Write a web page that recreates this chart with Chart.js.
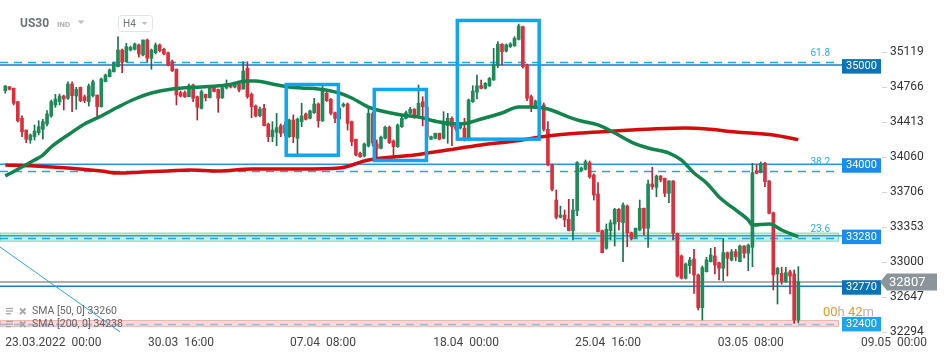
<!DOCTYPE html>
<html><head><meta charset="utf-8">
<script src="https://cdn.jsdelivr.net/npm/chart.js@4.4.1/dist/chart.umd.min.js"></script>
<style>html,body{margin:0;padding:0;background:#fff;overflow:hidden}canvas{display:block}</style>
</head><body>
<canvas id="c" width="949" height="358"></canvas>
<script>
// ---------- DATA ----------
const candleOpen = [34732,34772,34756,34621,34453,34335,34234,34268,34308,34342,
34396,34477,34588,34621,34678,34655,34799,34678,34766,34671,
34621,34681,34688,34570,34823,34873,34923,34974,35142,35024,
35142,35149,35193,35092,35243,35059,35115,35193,35149,35115,
35024,34948,34712,34712,34671,34789,34671,34554,34695,34661,
34759,34744,34661,34759,34794,34769,34799,34749,34958,34695,
34577,34480,34554,34393,34268,34312,34379,34305,34268,34436,
34252,34419,34497,34453,34510,34598,34429,34706,34645,34510,
34446,34577,34598,34419,34242,34100,34073,34174,34497,34194,
34151,34252,34363,34224,34167,34369,34453,34504,34544,34487,
34621,34567,34242,34252,34302,34252,34379,34453,34376,34356,
34353,34252,34621,34716,34782,34756,34782,34840,34984,35200,
35132,35176,35186,35250,35377,34991,34671,34580,34628,34588,
34342,33982,33629,33455,33478,33435,33320,33521,33925,33939,
34006,33881,33690,33320,33142,33320,33387,33536,33400,33569,
33299,33253,33327,33546,33344,33791,33757,33871,33848,33697,
33821,33293,33065,32840,32967,33034,32873,32543,32906,33007,
33065,32997,32941,33098,33024,33108,33007,33165,33092,33152,
33925,33905,33999,33821,33501,32883,32890,32805,32906,32883,
32419];
const candleHigh = [34784,34774,34759,34623,34477,34335,34295,34386,34429,34443,
34530,34638,34695,34698,34688,34822,34822,34766,34769,34688,
34799,34840,34688,34860,34900,34951,35021,35276,35152,35210,
35182,35213,35203,35243,35253,35152,35213,35203,35162,35122,
35041,34951,34729,34729,34799,34799,34678,34739,34698,34769,
34769,34749,34779,34840,34799,34809,34809,35024,35024,34709,
34588,34567,34595,34406,34419,34504,34396,34416,34446,34487,
34456,34605,34507,34537,34655,34608,34789,34746,34653,34517,
34577,34608,34608,34426,34245,34113,34204,34554,34517,34235,
34275,34376,34376,34235,34396,34487,34527,34564,34552,34789,
34671,34588,34275,34305,34305,34520,34504,34467,34396,34413,
34453,34648,34782,34890,34840,34814,34865,35159,35226,35208,
35203,35216,35276,35404,35384,35001,34688,34638,34648,34608,
34419,33992,33730,33568,33528,33636,33636,34016,33962,34033,
34023,33892,33804,33327,33387,33428,33546,33544,33602,33579,
33306,33347,33629,33549,33831,33959,33881,33876,33851,33826,
33826,33296,33075,32994,33051,33132,32883,32964,33051,33142,
33152,33004,33243,33105,33130,33132,33175,33170,33185,33999,
33982,34013,34008,33826,33508,32949,32951,32951,32923,32923,
32957];
const candleLow = [34706,34739,34588,34416,34268,34207,34201,34234,34285,34242,
34376,34463,34564,34588,34537,34645,34520,34544,34621,34611,
34577,34668,34456,34567,34820,34870,34920,34971,34913,35021,
35132,35142,35069,35082,35024,34948,35102,35122,35092,34981,
34925,34588,34668,34663,34668,34621,34436,34547,34628,34658,
34719,34514,34653,34749,34759,34759,34719,34746,34655,34459,
34467,34467,34376,34217,34217,34177,34268,34275,34260,34207,
34083,34369,34436,34446,34502,34363,34421,34623,34487,34409,
34436,34567,34335,34177,34073,34058,34063,34164,34174,34050,
34144,34245,34199,34050,34159,34361,34446,34497,34453,34477,
34376,34235,34240,34245,34235,34245,34201,34177,34325,34345,
34224,34245,34613,34648,34749,34749,34774,34835,34964,34991,
35122,35167,35178,35243,34958,34631,34520,34572,34567,34325,
33972,33720,33438,33448,33360,33317,33226,33471,33922,33932,
33848,33629,33307,33095,33132,33226,33165,33327,33007,33158,
33226,33246,33317,33276,33152,33737,33663,33811,33663,33602,
33226,32853,32832,32832,32890,32688,32520,32419,32903,33004,
32883,32822,32815,32863,33014,33017,33004,33044,32916,32957,
33892,33902,33763,33488,32722,32580,32779,32797,32681,32386,
32390];
const candleClose = [34779,34746,34605,34429,34318,34242,34285,34325,34369,34419,
34497,34621,34648,34678,34648,34799,34681,34746,34631,34631,
34779,34823,34570,34850,34890,34941,35008,35142,35018,35176,
35169,35203,35102,35243,35059,35142,35193,35135,35102,34991,
34933,34688,34678,34671,34782,34655,34564,34722,34661,34759,
34724,34655,34762,34799,34769,34799,34739,34930,34671,34570,
34477,34547,34379,34268,34335,34359,34302,34386,34436,34268,
34446,34477,34443,34527,34598,34429,34739,34631,34504,34453,
34557,34595,34403,34217,34083,34066,34194,34504,34204,34151,
34262,34363,34207,34167,34386,34453,34510,34544,34487,34605,
34570,34265,34268,34302,34242,34396,34453,34369,34345,34379,
34258,34638,34729,34782,34756,34806,34857,34998,35200,35125,
35193,35203,35260,35384,34974,34655,34580,34628,34588,34342,
33982,33737,33455,33478,33428,33320,33528,34006,33952,34016,
33864,33680,33310,33098,33334,33400,33536,33410,33579,33299,
33243,33344,33546,33344,33791,33763,33871,33831,33697,33821,
33293,32863,32840,32984,33024,32873,32543,32947,33024,33075,
32974,32941,33098,33041,33108,33058,33165,33092,33175,33905,
33899,33999,33814,33495,32873,32941,32805,32896,32863,32419,
32807];

const sma50Idx = [0,7,9,11,15,19,23,27,31,35,40,47,53,58,60,64,68,71,75,80,83,87,95,99,104,109,114,119,123,126,130,135,138,142,146,150,154,159,162,165,168,171,174,178,179,183,184,186,190];
const sma50Val = [33871,34032,34083,34164,34285,34396,34477,34567,34648,34708,34749,34769,34789,34830,34830,34799,34769,34759,34749,34708,34658,34567,34487,34466,34416,34396,34446,34507,34567,34567,34547,34466,34426,34386,34305,34214,34154,34103,34032,33902,33801,33660,33559,33428,33377,33387,33377,33327,33260];
const sma200Idx = [0,7,15,23,27,33,39,44,51,59,71,80,87,98,106,114,122,130,138,146,155,163,168,175,184,190];
const sma200Val = [33982,33972,33952,33922,33901,33912,33922,33932,33922,33942,33942,33952,34032,34083,34134,34184,34224,34275,34305,34325,34345,34355,34345,34315,34285,34238];

const yTickValues = [35119,34766,34413,34060,33706,33353,33000,32647,32294];
const xTickIdx = [0,34.2,68.2,102.5,136.5,170.7,205];
const xTickLabels = ['23.03.2022  00:00','30.03  16:00','07.04  08:00','18.04  00:00','25.04  16:00','03.05  08:00','09.05  00:00'];

const priceLevels = [35000,34000,33280,32770];
const priceTags = [35000,34000,33280,32770,32400];
const fibLevels = [35021,33919,33243,32379];
const fibLabels = ['61.8','38.2','23.6',''];
const zones = [[33300,33209],[32419,32351]];
const lastPrice = 32807;
const highlightBoxes = [[67.3,79.8,34794,34081],[88.4,100.9,34744,34028],[108.3,127.9,35440,34243]];
const trendLine = [[-1.27,33155],[27.5,32298]];
const legendTexts = ['SMA [50, 0] 33260','SMA [200, 0] 34238'];
const symbolName = 'US30', symbolType = 'IND', timeframe = 'H4';
const countdown = ['00','h',' 42','m'];

// ---------- STYLE ----------
const GREEN = '#1f8a5a', GREEN_W = '#16744a', RED = '#dc2f3e', RED_W = '#c01f2e';
Chart.defaults.font.family = 'Roboto';
Chart.defaults.animation = false;

const idx = candleOpen.map((_, i) => i);
const isUp = i => candleClose[i] >= candleOpen[i];

const overlay = {
  id: 'overlay',
  beforeDatasetsDraw(chart) {
    const {ctx, chartArea: a, scales: {x: xS, y: yS}} = chart;
    const xe = 838;
    ctx.save();
    ctx.beginPath(); ctx.rect(a.left, a.top, a.right - a.left, a.bottom - a.top); ctx.clip();
    const zf = ['rgba(140,224,192,0.5)', 'rgba(250,206,206,0.75)'];
    const ze = ['#8bdabd', '#f2b3b3'];
    zones.forEach((z, k) => {
      const t = yS.getPixelForValue(z[0]), b = yS.getPixelForValue(z[1]);
      ctx.fillStyle = zf[k]; ctx.fillRect(0, t, xe, b - t);
      ctx.strokeStyle = ze[k]; ctx.lineWidth = 1; ctx.strokeRect(0.5, t + 0.5, xe, b - t - 1);
    });
    ctx.setLineDash([8, 6]);
    fibLevels.forEach((v, k) => {
      const y = Math.round(yS.getPixelForValue(v)) + 0.5;
      ctx.strokeStyle = fibLabels[k] ? '#1ea6ee' : '#9fb6d8';
      ctx.lineWidth = 1.3;
      ctx.beginPath(); ctx.moveTo(0, y); ctx.lineTo(xe, y); ctx.stroke();
    });
    ctx.setLineDash([]);
    const lc = ['#1f7bbd', '#2b93e6', '#2b9de8', '#1f7bbd'];
    priceLevels.forEach((v, k) => {
      const y = yS.getPixelForValue(v) + 1;
      ctx.strokeStyle = lc[k]; ctx.lineWidth = 1.5;
      ctx.beginPath(); ctx.moveTo(0, y); ctx.lineTo(842, y); ctx.stroke();
    });
    const yl = yS.getPixelForValue(lastPrice) + 0.5;
    ctx.strokeStyle = '#8b9498'; ctx.lineWidth = 1.5;
    ctx.beginPath(); ctx.moveTo(0, yl); ctx.lineTo(882, yl); ctx.stroke();
    ctx.strokeStyle = '#29a3ea'; ctx.lineWidth = 1;
    ctx.beginPath();
    ctx.moveTo(xS.getPixelForValue(trendLine[0][0]), yS.getPixelForValue(trendLine[0][1]));
    ctx.lineTo(xS.getPixelForValue(trendLine[1][0]), yS.getPixelForValue(trendLine[1][1]));
    ctx.stroke();
    ctx.restore();
  },
  afterDatasetsDraw(chart) {
    const {ctx, scales: {x: xS, y: yS}} = chart;
    ctx.save();
    ctx.strokeStyle = '#0ea6ee'; ctx.lineWidth = 3.5;
    highlightBoxes.forEach(b => {
      const x0 = xS.getPixelForValue(b[0]), x1 = xS.getPixelForValue(b[1]);
      const y0 = yS.getPixelForValue(b[2]), y1 = yS.getPixelForValue(b[3]);
      ctx.strokeRect(x0, y0, x1 - x0, y1 - y0);
    });
    ctx.restore();
  },
  afterDraw(chart) {
    const {ctx, scales: {y: yS}} = chart;
    ctx.save();
    ctx.font = '10px Roboto'; ctx.fillStyle = '#2aaaf0'; ctx.textAlign = 'right'; ctx.textBaseline = 'middle';
    fibLevels.forEach((v, k) => { if (fibLabels[k]) ctx.fillText(fibLabels[k], 830, yS.getPixelForValue(v) - 8.5); });
    const tc = ['#0b74b8', '#1a8cee', '#1a8cee', '#0b74b8', '#1ea3ef'];
    ctx.font = '11px Roboto'; ctx.textAlign = 'left';
    priceTags.forEach((v, k) => {
      const y = yS.getPixelForValue(v) + 2;
      ctx.fillStyle = tc[k]; ctx.fillRect(842, y - 7, 39, 14.5);
      ctx.fillStyle = '#fff'; ctx.fillText(String(v), 846, y + 0.5);
    });
    ctx.font = '13px Roboto'; ctx.textBaseline = 'middle';
    let cx = 823;
    countdown.forEach((s, k) => {
      ctx.fillStyle = k % 2 === 0 ? '#f7941d' : '#b3b3b3';
      ctx.fillText(s, cx, 313); cx += ctx.measureText(s).width;
    });
    const yl = yS.getPixelForValue(lastPrice) + 0.5;
    ctx.fillStyle = '#8b9498';
    ctx.beginPath(); ctx.moveTo(880, yl); ctx.lineTo(887, yl - 8.5); ctx.lineTo(937, yl - 8.5);
    ctx.lineTo(937, yl + 8.5); ctx.lineTo(887, yl + 8.5); ctx.closePath(); ctx.fill();
    ctx.fillStyle = '#fff'; ctx.font = '13px Roboto'; ctx.fillText(String(lastPrice), 889, yl + 0.5);
    ctx.font = '10.5px Roboto';
    legendTexts.forEach((t, k) => {
      const y = 311.5 + k * 13;
      ctx.strokeStyle = '#a6a6a6'; ctx.lineWidth = 1.3;
      for (let j = 0; j < 3; j++) { ctx.beginPath(); ctx.moveTo(6, y - 3 + j * 2.6); ctx.lineTo(13 - (j === 2 ? 2 : 0), y - 3 + j * 2.6); ctx.stroke(); }
      ctx.lineWidth = 1.8;
      ctx.beginPath(); ctx.moveTo(20, y - 3); ctx.lineTo(25.5, y + 2.5); ctx.moveTo(25.5, y - 3); ctx.lineTo(20, y + 2.5); ctx.stroke();
      ctx.fillStyle = '#666'; ctx.fillText(t, 32, y);
    });
    ctx.fillStyle = '#6b747a'; ctx.font = 'bold 12px Roboto'; ctx.fillText(symbolName, 20, 23.5);
    ctx.fillStyle = '#a9b0b5'; ctx.font = 'bold 8px Roboto'; ctx.fillText(symbolType, 57, 24.5);
    ctx.fillStyle = '#bcc2c6';
    ctx.beginPath(); ctx.moveTo(77.5, 20.5); ctx.lineTo(84.5, 20.5); ctx.lineTo(81, 24); ctx.closePath(); ctx.fill();
    ctx.strokeStyle = '#e2e5e7'; ctx.lineWidth = 1;
    ctx.beginPath(); ctx.roundRect(118.5, 15.5, 34, 16, 3); ctx.stroke();
    ctx.fillStyle = '#6b747a'; ctx.font = '10px Roboto'; ctx.fillText(timeframe, 123, 24);
    ctx.fillStyle = '#bcc2c6';
    ctx.beginPath(); ctx.moveTo(141.5, 22); ctx.lineTo(147.5, 22); ctx.lineTo(144.5, 25); ctx.closePath(); ctx.fill();
    ctx.restore();
  }
};

new Chart(document.getElementById('c'), {
  type: 'bar',
  data: {
    datasets: [
      { type: 'line', label: 'SMA50', data: sma50Idx.map((x, i) => ({x, y: sma50Val[i]})),
        borderColor: '#14844f', borderWidth: 3.5, pointRadius: 0, tension: 0.4, cubicInterpolationMode: 'monotone', order: 0 },
      { type: 'line', label: 'SMA200', data: sma200Idx.map((x, i) => ({x, y: sma200Val[i]})),
        borderColor: '#d30d0d', borderWidth: 3.5, pointRadius: 0, tension: 0.4, cubicInterpolationMode: 'monotone', order: 0 },
      { label: 'body', data: idx.map(i => ({x: i, y: [candleOpen[i], candleClose[i]]})),
        backgroundColor: idx.map(i => isUp(i) ? GREEN : RED), borderWidth: 0,
        barThickness: 3, grouped: false, minBarLength: 1, order: 1 },
      { label: 'wick', data: idx.map(i => ({x: i, y: [candleLow[i], candleHigh[i]]})),
        backgroundColor: idx.map(i => isUp(i) ? GREEN_W : RED_W), borderWidth: 0,
        barThickness: 1, grouped: false, order: 2 }
    ]
  },
  options: {
    responsive: false, devicePixelRatio: 1, animation: false,
    layout: { padding: 0 },
    plugins: { legend: { display: false }, tooltip: { enabled: false } },
    scales: {
      x: {
        type: 'linear', min: -1.27, max: 210.04, offset: false,
        grid: { display: false }, border: { display: false },
        afterBuildTicks: s => { s.ticks = xTickIdx.map(v => ({value: v})); },
        afterFit: s => { s.height = 24; s.paddingLeft = 0; s.paddingRight = 0; },
        ticks: { autoSkip: false, maxRotation: 0, align: 'start', padding: -6, color: '#444',
          font: { size: 12 }, callback: (v, i) => xTickLabels[i] }
      },
      y: {
        position: 'right', min: 32277.8, max: 35646.5,
        grid: { drawOnChartArea: false, drawTicks: true, tickLength: 5, color: '#d6d6d6' },
        border: { display: false },
        afterBuildTicks: s => { s.ticks = yTickValues.map(v => ({value: v})); },
        afterFit: s => { s.width = 67; s.paddingTop = 0; s.paddingBottom = 0; },
        ticks: { padding: 3, color: '#333', font: { size: 12 }, callback: v => String(v) }
      }
    }
  },
  plugins: [overlay]
});
</script>
</body></html>
